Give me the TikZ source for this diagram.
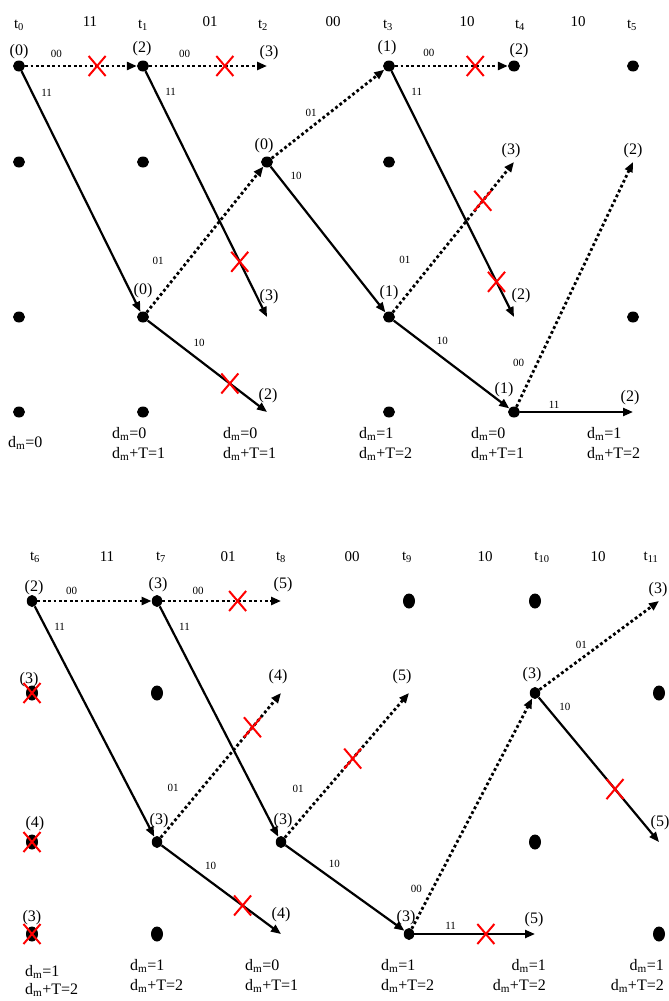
\documentclass[tikz,border=0pt]{standalone}
\usepackage{fontspec}
\setmainfont{Liberation Serif}
\usetikzlibrary{arrows.meta,shapes.geometric,shapes.misc,calc}
\tikzset{
  tdot/.style  ={ellipse, fill=black, inner sep=0pt,
                 minimum width=12pt, minimum height=11pt},
  bdot/.style  ={ellipse, fill=black, inner sep=0pt,
                 minimum width=12pt, minimum height=15pt},
  bnode/.style ={ellipse, fill=black, inner sep=0pt,
                 minimum width=10.5pt, minimum height=12pt},
  zerobr/.style={-{Triangle[length=10pt,width=8pt]}, line width=2.8pt,
                 dash pattern=on 2.8pt off 2.6pt},
  onebr/.style ={-{Triangle[length=10pt,width=8pt]}, line width=2.2pt},
  cut/.style   ={cross out, draw=red, line width=2pt, solid,
                 minimum width=15pt, minimum height=18pt, inner sep=0pt},
  bitlbl/.style={font=\fontsize{11}{12}\selectfont, inner sep=0pt},
  hdr/.style   ={font=\fontsize{15}{18}\selectfont, inner sep=0pt, anchor=base},
  pmlbl/.style ={font=\fontsize{16}{18}\selectfont, inner sep=0pt},
  dmlbl/.style ={font=\fontsize{16}{20}\selectfont, inner sep=0pt,
                 align=left, anchor=north west},
}
\newcommand{\dmsym}{d\textsubscript{m}}

\begin{document}
\begin{tikzpicture}[x=1pt,y=-1pt]
\useasboundingbox (0,0) rectangle (669,1001);

%% time instants and received pairs
\foreach \n/\x in {0/19,1/143,2/263,3/388,4/520,5/632}
  \node[hdr] (t\n) at (\x,28) {t\textsubscript{\n}};
\foreach \b/\x [count=\i] in {11/90,01/210,00/333,10/467,10/578}
  \node[hdr] (in\i) at (\x,27) {\b};
\foreach \n/\x in {6/35,7/161,8/281,9/407,10/542,11/651}
  \node[hdr] (t\n) at (\x,560) {t\textsubscript{\n}};
\foreach \b/\x [count=\i from 6] in {11/107,01/228,00/352,10/485,10/598}
  \node[hdr] (in\i) at (\x,561) {\b};

%% trellis grid
\foreach \c/\x in {0/19,1/143,2/267,3/389,4/514,5/633}
  \foreach \r/\y in {0/66,1/162,2/317,3/412}
    \coordinate (g\c-\r) at (\x,\y);
\foreach \c/\x in {6/32,7/157,8/281,9/409,10/535,11/659}
  \foreach \r/\y in {0/601,1/693,2/842,3/934}
    \coordinate (g\c-\r) at (\x,\y);

\foreach \p in {0-0,0-1,0-2,0-3,1-0,1-1,1-2,1-3,2-1,3-0,3-1,3-2,3-3,4-0,4-3,5-0,5-2}
  \node[tdot] (d\p) at (g\p) {};
\foreach \p in {6-1,6-2,6-3,7-1,7-3,9-0,10-0,10-2,11-1,11-3}
  \node[bdot] (d\p) at (g\p) {};
\foreach \p in {6-0,7-0,7-2,8-2,9-3,10-1}
  \node[bnode] (d\p) at (g\p) {};

%% branches t0 .. t5
\draw[zerobr] (d0-0) -- node[bitlbl, pos=.28, above=6.5pt] (b1) {00} (d1-0);
\draw[onebr]  (d0-0) -- node[bitlbl, pos=.09, right=8pt] (b2) {11} (d1-2);
\draw[zerobr] (d1-0) -- node[bitlbl, pos=.3, above=6.5pt] (b3) {00} (g2-0);
\draw[onebr]  (d1-0) -- node[bitlbl, pos=.084, right=8.5pt] (b4) {11} (g2-2);
\draw[zerobr] (d1-2) -- node[bitlbl, pos=.35, left=22.5pt] (b5) {01} (d2-1);
\draw[onebr]  (d1-2) -- node[bitlbl, pos=.43, above=12.5pt] (b6) {10} (g2-3);
\draw[zerobr] (d2-1) -- node[bitlbl, pos=.35, above=9.5pt] (b7) {01} (d3-0);
\draw[onebr]  (d2-1) -- node[bitlbl, pos=.065, right=11.5pt] (b8) {10} (d3-2);
\draw[zerobr] (d3-0) -- node[bitlbl, pos=.3, above=7.5pt] (b9) {00} (d4-0);
\draw[onebr]  (d3-0) -- node[bitlbl, pos=.084, right=8.5pt] (b10) {11} (g4-2);
\draw[zerobr] (d3-2) -- node[bitlbl, pos=.35, left=23.5pt] (b11) {01} (g4-1);
\draw[onebr]  (d3-2) -- node[bitlbl, pos=.42, above=11.5pt] (b12) {10} (d4-3);
\draw[zerobr] (d4-3) -- node[bitlbl, pos=.18, left=12pt] (b13) {00} (g5-1);
\draw[onebr]  (d4-3) -- node[bitlbl, pos=.3, above=2.5pt] (b14) {11} (g5-3);

%% branches t6 .. t11
\draw[zerobr] (d6-0) -- node[bitlbl, pos=.3, above=5.5pt] (b15) {00} (d7-0);
\draw[onebr]  (d6-0) -- node[bitlbl, pos=.087, right=8pt] (b16) {11} (d7-2);
\draw[zerobr] (d7-0) -- node[bitlbl, pos=.3, above=5.5pt] (b17) {00} (g8-0);
\draw[onebr]  (d7-0) -- node[bitlbl, pos=.087, right=8pt] (b18) {11} (d8-2);
\draw[zerobr] (d7-2) -- node[bitlbl, pos=.34, left=21.5pt] (b19) {01} (g8-1);
\draw[onebr]  (d7-2) -- node[bitlbl, pos=.41, above=11.5pt] (b20) {10} (g8-3);
\draw[zerobr] (d8-2) -- node[bitlbl, pos=.34, left=22pt] (b21) {01} (g9-1);
\draw[onebr]  (d8-2) -- node[bitlbl, pos=.41, above=11.5pt] (b22) {10} (d9-3);
\draw[zerobr] (d9-3) -- node[bitlbl, pos=.174, left=9.5pt] (b23) {00} (d10-1);
\draw[onebr]  (d9-3) -- node[bitlbl, pos=.3, above=3.5pt] (b24) {11} (g10-3);
\draw[zerobr] (d10-1) -- node[bitlbl, pos=.35, above=8.5pt] (b25) {01} (g11-0);
\draw[onebr]  (d10-1) -- node[bitlbl, pos=.067, right=11.5pt] (b26) {10} (g11-2);

%% discarded branches
\node[cut] (c1)  at ($(g0-0)!.63!(g1-0)$) {};
\node[cut] (c2)  at ($(g1-0)!.66!(g2-0)$) {};
\node[cut] (c3)  at ($(g1-0)!.78!(g2-2)$) {};
\node[cut] (c4)  at ($(g1-2)!.70!(g2-3)$) {};
\node[cut] (c5)  at ($(g3-0)!.69!(g4-0)$) {};
\node[cut] (c6)  at ($(g3-2)!.75!(g4-1)$) {};
\node[cut] (c7)  at ($(g3-0)!.86!(g4-2)$) {};
\node[cut] (c8)  at ($(g7-0)!.65!(g8-0)$) {};
\node[cut] (c9)  at ($(g7-2)!.77!(g8-1)$) {};
\node[cut] (c10) at ($(g7-2)!.69!(g8-3)$) {};
\node[cut] (c11) at ($(g8-2)!.56!(g9-1)$) {};
\node[cut] (c12) at ($(g9-3)!.61!(g10-3)$) {};
\node[cut] (c13) at ($(g10-1)!.645!(g11-2)$) {};
\foreach \r in {1,2,3}
  \node[cut] (c6-\r) at (g6-\r) {};

%% path metrics
\node[pmlbl] (v0-0) at (19,52) {(0)};
\node[pmlbl] (v1-0) at (142,49) {(2)};
\node[pmlbl] (v2-0) at (269,53) {(3)};
\node[pmlbl] (v2-1) at (264,146) {(0)};
\node[pmlbl] (v1-2) at (143,291) {(0)};
\node[pmlbl] (v2-2) at (269,297) {(3)};
\node[pmlbl] (v2-3) at (268,396) {(2)};
\node[pmlbl] (v3-0) at (387,48) {(1)};
\node[pmlbl] (v4-0) at (519,51) {(2)};
\node[pmlbl] (v4-1) at (511,151) {(3)};
\node[pmlbl] (v5-1) at (633,151) {(2)};
\node[pmlbl] (v3-2) at (389,293) {(1)};
\node[pmlbl] (v4-2) at (521,296) {(2)};
\node[pmlbl] (v4-3) at (504,390) {(1)};
\node[pmlbl] (v5-3) at (630,398) {(2)};
\node[pmlbl] (v6-0) at (34,588) {(2)};
\node[pmlbl] (v7-0) at (158,585) {(3)};
\node[pmlbl] (v8-0) at (283,585) {(5)};
\node[pmlbl] (v6-1) at (29,680) {(3)};
\node[pmlbl] (v8-1) at (278,677) {(4)};
\node[pmlbl] (v9-1) at (402,677) {(5)};
\node[pmlbl] (v10-1) at (532,675) {(3)};
\node[pmlbl] (v11-0) at (658,590) {(3)};
\node[pmlbl] (v6-2) at (35,824) {(4)};
\node[pmlbl] (v7-2) at (159,821) {(3)};
\node[pmlbl] (v8-2) at (283,821) {(3)};
\node[pmlbl] (v11-2) at (660,823) {(5)};
\node[pmlbl] (v6-3) at (32,918) {(3)};
\node[pmlbl] (v8-3) at (281,915) {(4)};
\node[pmlbl] (v9-3) at (406,918) {(3)};
\node[pmlbl] (v10-3) at (534,920) {(5)};

%% distances
\node[dmlbl] (dm0) at (8,436) {\dmsym=0};
\node[dmlbl] (dm1) at (112,427) {\dmsym=0\\\dmsym+T=1};
\node[dmlbl] (dm2) at (223,427) {\dmsym=0\\\dmsym+T=1};
\node[dmlbl] (dm3) at (359,427) {\dmsym=1\\\dmsym+T=2};
\node[dmlbl] (dm4) at (471,427) {\dmsym=0\\\dmsym+T=1};
\node[dmlbl] (dm5) at (587,427) {\dmsym=1\\\dmsym+T=2};
\node[dmlbl, font=\fontsize{16}{18}\selectfont] (dm6) at (25,965) {\dmsym=1\\\dmsym+T=2};
\node[dmlbl] (dm7) at (130,959) {\dmsym=1\\\dmsym+T=2};
\node[dmlbl] (dm8) at (245,959) {\dmsym=0\\\dmsym+T=1};
\node[dmlbl] (dm9) at (381,959) {\dmsym=1\\\dmsym+T=2};
\node[dmlbl, align=right, anchor=north east] (dm10) at (546,959) {\dmsym=1\\\dmsym+T=2};
\node[dmlbl, align=right, anchor=north east] (dm11) at (664,959) {\dmsym=1\\\dmsym+T=2};
\end{tikzpicture}
\end{document}
